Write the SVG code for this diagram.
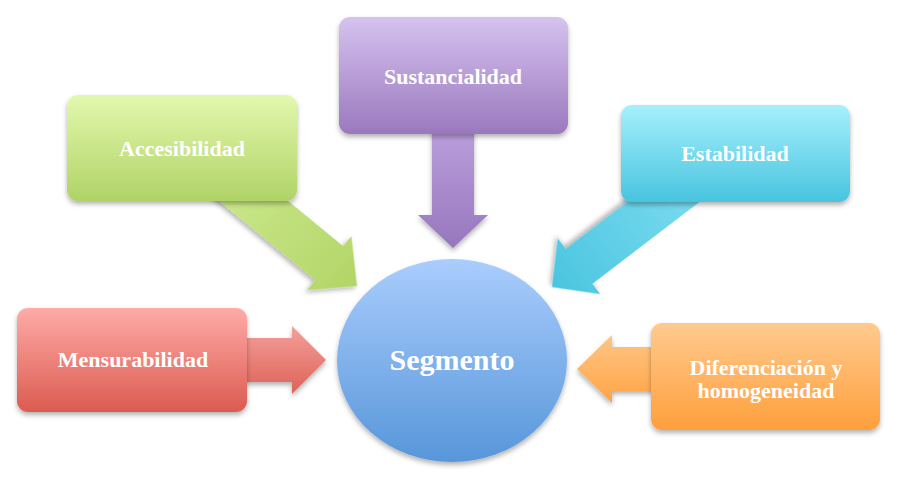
<svg xmlns="http://www.w3.org/2000/svg" width="902" height="487" viewBox="0 0 902 487">
<defs>
<filter id="sh" x="-20%" y="-20%" width="140%" height="150%">
<feDropShadow dx="0" dy="3" stdDeviation="2.5" flood-color="#000" flood-opacity="0.3"/>
</filter>
<filter id="tsh" x="-10%" y="-30%" width="120%" height="160%">
<feDropShadow dx="0" dy="1" stdDeviation="0.8" flood-color="#000" flood-opacity="0.25"/>
</filter>
<linearGradient id="gPurple" x1="0" y1="0" x2="0" y2="1"><stop offset="0" stop-color="#d6c3ef"/><stop offset="1" stop-color="#9a78be"/></linearGradient>
<linearGradient id="gGreen" x1="0" y1="0" x2="0" y2="1"><stop offset="0" stop-color="#e3f8ae"/><stop offset="1" stop-color="#b0d366"/></linearGradient>
<linearGradient id="gCyan" x1="0" y1="0" x2="0" y2="1"><stop offset="0" stop-color="#a6f0fc"/><stop offset="1" stop-color="#48c4df"/></linearGradient>
<linearGradient id="gRed" x1="0" y1="0" x2="0" y2="1"><stop offset="0" stop-color="#ffaba7"/><stop offset="1" stop-color="#db5b50"/></linearGradient>
<linearGradient id="gOrange" x1="0" y1="0" x2="0" y2="1"><stop offset="0" stop-color="#ffca8e"/><stop offset="1" stop-color="#ff9f3c"/></linearGradient>
<linearGradient id="gBlue" x1="0" y1="0" x2="0" y2="1"><stop offset="0" stop-color="#aacdfd"/><stop offset="1" stop-color="#5796da"/></linearGradient>
<linearGradient id="aPurple" x1="0" y1="0" x2="0" y2="1"><stop offset="0" stop-color="#bb9fdc"/><stop offset="1" stop-color="#9677bd"/></linearGradient>
<linearGradient id="aGreen" x1="0" y1="0" x2="1" y2="0"><stop offset="0" stop-color="#cde98f"/><stop offset="1" stop-color="#b2d566"/></linearGradient>
<linearGradient id="aCyan" x1="0" y1="0" x2="1" y2="0"><stop offset="0" stop-color="#7ddcef"/><stop offset="1" stop-color="#4ac5e0"/></linearGradient>
<linearGradient id="aRed" x1="0" y1="0" x2="0" y2="1"><stop offset="0" stop-color="#f4a09a"/><stop offset="1" stop-color="#dd6258"/></linearGradient>
<linearGradient id="aOrange" x1="0" y1="0" x2="0" y2="1"><stop offset="0" stop-color="#ffc585"/><stop offset="1" stop-color="#ffa445"/></linearGradient>
</defs>
<style>
.lbl{font-family:"Liberation Serif","DejaVu Serif",serif;font-weight:bold;font-size:22px;fill:#ffffff;text-anchor:middle;}
.big{font-size:30px;}
.box{filter:url(#sh);}
.arr{filter:url(#sh);}
</style>
<g id="connectors">
<path class="arr" fill="url(#aPurple)" d="M432,128 L474,128 L474,215 L488,215 L453,248 L418,215 L432,215 Z"/>
<path class="arr" fill="url(#aGreen)" transform="translate(357,286) rotate(39.4)" d="M-180,-22 L-36,-22 L-36,-35 L0,0 L-36,35 L-36,22 L-180,22 Z"/>
<path class="arr" fill="url(#aCyan)" transform="translate(552,287) rotate(142.6)" d="M-180,-22 L-34,-22 L-34,-35 L0,0 L-34,35 L-34,22 L-180,22 Z"/>
<path class="arr" fill="url(#aRed)" d="M240,338 L292,338 L292,326 L326,360 L292,394 L292,382 L240,382 Z"/>
<path class="arr" fill="url(#aOrange)" d="M660,347 L612,347 L612,335 L577,369 L612,403 L612,391 L660,391 Z"/>
</g>
<g id="sustancialidad">
<rect class="box" x="339" y="17" width="229" height="117" rx="11" fill="url(#gPurple)"/>
<text class="lbl" x="453" y="84">Sustancialidad</text>
</g>
<g id="accesibilidad">
<rect class="box" x="67" y="95" width="230" height="106" rx="11" fill="url(#gGreen)"/>
<text class="lbl" x="182" y="156">Accesibilidad</text>
</g>
<g id="estabilidad">
<rect class="box" x="621" y="105" width="229" height="97" rx="11" fill="url(#gCyan)"/>
<text class="lbl" x="735" y="161">Estabilidad</text>
</g>
<g id="mensurabilidad">
<rect class="box" x="17" y="308" width="230" height="104" rx="11" fill="url(#gRed)"/>
<text class="lbl" x="133" y="367">Mensurabilidad</text>
</g>
<g id="diferenciacion">
<rect class="box" x="651" y="323" width="229" height="107" rx="11" fill="url(#gOrange)"/>
<text class="lbl" x="766" y="375">Diferenciación y</text>
<text class="lbl" x="766" y="398">homogeneidad</text>
</g>
<g id="segmento">
<ellipse class="box" cx="452" cy="360.5" rx="115" ry="101.5" fill="url(#gBlue)"/>
<text class="lbl big" x="452" y="370">Segmento</text>
</g>
</svg>
